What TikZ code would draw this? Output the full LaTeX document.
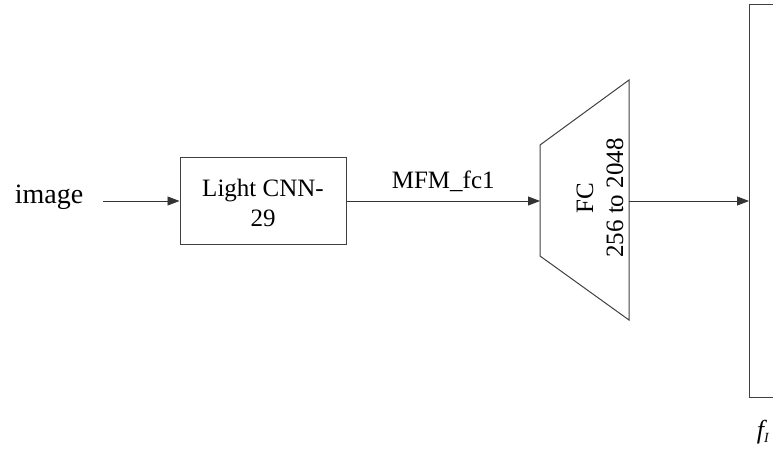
\documentclass[tikz,border=0pt]{standalone}
\usepackage{fontspec}
\setmainfont{Liberation Serif}
\usetikzlibrary{arrows.meta}
\begin{document}
\begin{tikzpicture}[x=1pt,y=-1pt,
  txt/.style={font=\fontsize{25}{30}\selectfont, inner sep=0pt},
  box/.style={draw=black!75, line width=1pt},
  conn/.style={draw=black!80, line width=0.8pt, -{Triangle[length=12pt,width=9pt]}}]
\useasboundingbox (0,0) rectangle (773,453);
\node[txt, font=\fontsize{28}{32}\selectfont] (img) at (49,197) {image};
\node[box, minimum width=166pt, minimum height=87pt, inner sep=0pt] (cnn) at (263,200.5) {};
\node[txt, align=center] (cnnt) at (263,203) {Light CNN-\\29};
\coordinate (imgE) at (103,201);
\draw[conn] (imgE) -- (cnn.west |- imgE);
% trapezoid
\coordinate (t1) at (540,145);
\coordinate (t2) at (629,80);
\coordinate (t3) at (629,320);
\coordinate (t4) at (540,256);
\draw[box, line join=miter] (t1) -- (t2) -- (t3) -- (t4) -- cycle;
\coordinate (tw) at (540,201);
\coordinate (te) at (629,201);
\node[txt, rotate=90, align=center] (fc) at (600,198) {FC\\256 to 2048};
\draw[conn] (cnn.east |- tw) -- node[txt, above=9pt] (mfm) {MFM\_fc1} (tw);
% big rect
\coordinate (r1) at (749,4);
\coordinate (r2) at (780,397);
\draw[box] (780,4) -- (r1) -- (749,397) -- (780,397);
\coordinate (rw) at (749,201);
\draw[conn] (te) -- (rw);
\node[txt, font=\fontsize{26}{30}\selectfont\itshape] (fi) at (763,432) {f\textsubscript{\fontsize{14}{16}\selectfont I}};
\end{tikzpicture}
\end{document}
